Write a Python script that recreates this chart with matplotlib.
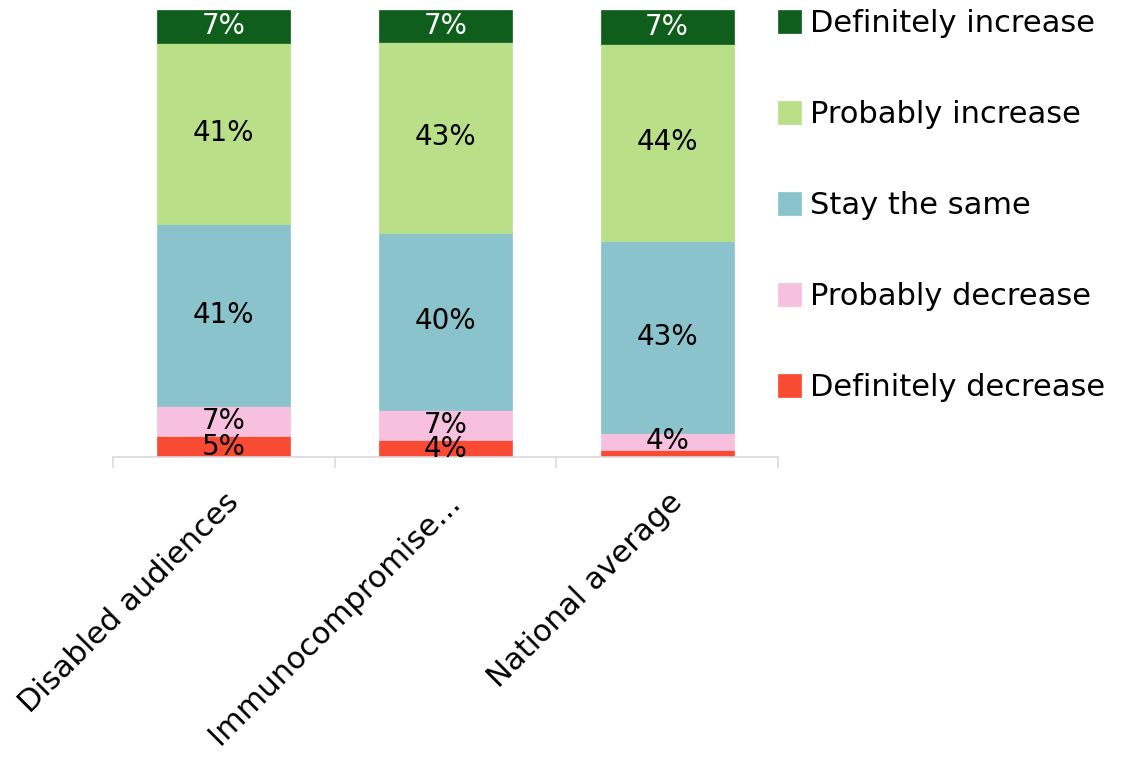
import matplotlib
matplotlib.use("Agg")
import matplotlib.pyplot as plt
import numpy as np

categories = ["Disabled audiences", "Immunocompromise...", "National average"]
series_names = ["Definitely decrease", "Probably decrease", "Stay the same",
                "Probably increase", "Definitely increase"]
definitely_decrease = [4.6, 3.7, 1.6]
probably_decrease = [6.9, 6.8, 3.8]
stay_the_same = [40.6, 39.7, 43.0]
probably_increase = [40.6, 42.6, 44.1]
definitely_increase = [7.3, 7.2, 7.4]
colors = ["#f94b33", "#f7c0de", "#8ac3cb", "#b9e089", "#0f5e1b"]
label_colors = ["black", "black", "black", "black", "white"]

series = [definitely_decrease, probably_decrease, stay_the_same,
          probably_increase, definitely_increase]

plt.rcParams['font.family'] = ['DejaVu Sans']
fig = plt.figure(figsize=(11.28, 7.65), dpi=100)
ax = fig.add_axes([113/1128, 1-457/765, (778-113)/1128, (457-10)/765])

x = np.arange(len(categories))
bottom = np.zeros(len(categories))
handles = []
for name, vals, c, lc in zip(series_names, series, colors, label_colors):
    vals = np.array(vals)
    b = ax.bar(x, vals, 0.6, bottom=bottom, color=c, edgecolor=c,
               linewidth=0.5, label=name)
    handles.append(b)
    for xi, v, bt in zip(x, vals, bottom):
        if v >= 3:
            ax.text(xi, bt + v/2, f"{int(v + 0.5)}%", ha="center", va="center",
                    fontsize=20, color=lc)
    bottom += vals

ax.set_xlim(-0.5, 2.5)
ax.set_ylim(0, 100)
for s in ["top", "right", "left"]:
    ax.spines[s].set_visible(False)
ax.spines["bottom"].set_color("#d9d9d9")
ax.spines["bottom"].set_linewidth(1.2)
ax.set_yticks([])
ax.set_xticks([-0.5, 0.5, 1.5, 2.5], minor=False)
ax.set_xticklabels([])
ax.tick_params(axis="x", which="major", length=8, color="#d9d9d9", width=1.2)
ax.set_xticks(x, minor=True)
ax.set_xticklabels(categories, minor=True, rotation=45, ha="right",
                   rotation_mode="anchor", fontsize=22)
ax.tick_params(axis="x", which="minor", length=0, pad=22)

leg = fig.legend(handles[::-1], series_names[::-1], loc="upper left",
                 bbox_to_anchor=(766/1128, 1+3/765), frameon=False,
                 fontsize=22, handlelength=0.75, handleheight=0.75,
                 handletextpad=0.3, labelspacing=2.03, borderaxespad=0)

fig.savefig("out.png", dpi=100)
